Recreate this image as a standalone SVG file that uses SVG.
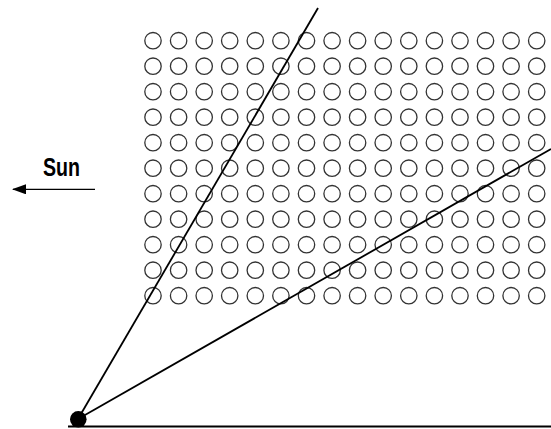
<svg xmlns="http://www.w3.org/2000/svg" width="551" height="429" viewBox="0 0 551 429">
<style>
.c{fill:none;stroke:#333;stroke-width:1.3}
.l{stroke:#000;stroke-width:1.8;fill:none}
</style>
<defs>
<circle id="o" class="c" r="8.2"/>
<g id="row">
<use href="#o" x="153"/><use href="#o" x="178.6"/><use href="#o" x="204.2"/><use href="#o" x="229.7"/><use href="#o" x="255.3"/><use href="#o" x="280.9"/><use href="#o" x="306.5"/><use href="#o" x="332.1"/><use href="#o" x="357.6"/><use href="#o" x="383.2"/><use href="#o" x="408.8"/><use href="#o" x="434.4"/><use href="#o" x="460"/><use href="#o" x="485.5"/><use href="#o" x="511.1"/><use href="#o" x="536.7"/>
</g>
<marker id="ah" markerWidth="14" markerHeight="10" refX="13" refY="5" orient="auto" markerUnits="userSpaceOnUse"><path d="M0,0 L14,5 L0,10 Z" fill="#000"/></marker>
</defs>
<g id="grid">
<use href="#row" y="40.7"/><use href="#row" y="66.2"/><use href="#row" y="91.7"/><use href="#row" y="117.2"/><use href="#row" y="142.7"/><use href="#row" y="168.2"/><use href="#row" y="193.7"/><use href="#row" y="219.2"/><use href="#row" y="244.7"/><use href="#row" y="270.2"/><use href="#row" y="295.7"/>
</g>
<g id="connectors">
<line class="l" x1="78" y1="419" x2="318" y2="8"/>
<line class="l" x1="78" y1="419" x2="551" y2="149"/>
<line class="l" x1="68" y1="426.5" x2="551" y2="426.5"/>
</g>
<g id="origin"><circle cx="78.3" cy="419.3" r="8.3" fill="#000"/></g>
<g id="sun">
<text x="43" y="176" font-family="'Liberation Sans Narrow','Liberation Sans',sans-serif" font-weight="bold" font-size="26" textLength="37" lengthAdjust="spacingAndGlyphs">Sun</text>
<line x1="95" y1="189.3" x2="13" y2="189.3" stroke="#000" stroke-width="1.3" marker-end="url(#ah)"/>
</g>
</svg>
